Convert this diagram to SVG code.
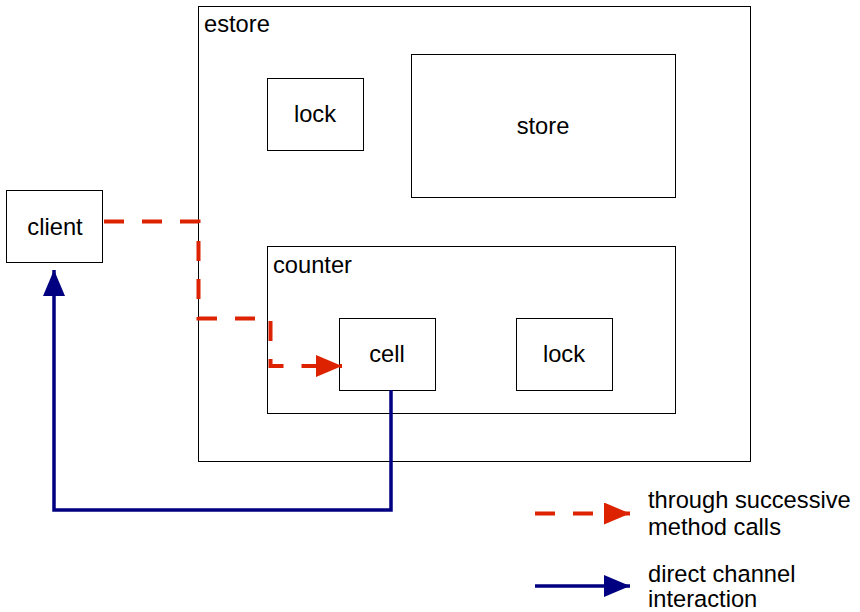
<svg xmlns="http://www.w3.org/2000/svg" width="860" height="612" viewBox="0 0 860 612">
<style>
rect{fill:#fff;stroke:#000;stroke-width:1}
text{font-family:"Liberation Sans",Arial,sans-serif;font-size:23.7px;fill:#000}
.c{text-anchor:middle}
.red{fill:none;stroke:#dd2200;stroke-width:4;stroke-dasharray:20 18}
.blue{fill:none;stroke:#000080;stroke-width:3.5}
</style>
<defs>
<marker id="ar" markerUnits="userSpaceOnUse" markerWidth="28" markerHeight="22" refX="26" refY="11" orient="auto"><path d="M0,0 L26,11 L0,22 Z" fill="#dd2200"/></marker>
<marker id="ab" markerUnits="userSpaceOnUse" markerWidth="28" markerHeight="22" refX="26" refY="11" orient="auto"><path d="M0,0 L26,11 L0,22 Z" fill="#000080"/></marker>
</defs>
<g id="estore"><rect x="198.5" y="6.5" width="552" height="455"/><text x="204" y="32">estore</text></g>
<g id="lock1"><rect x="267.5" y="78.5" width="96" height="72"/><text class="c" x="315" y="122">lock</text></g>
<g id="store"><rect x="411.5" y="54.5" width="264" height="143"/><text class="c" x="543" y="134">store</text></g>
<g id="client"><rect x="6.5" y="190.5" width="96" height="72"/><text class="c" x="55" y="235">client</text></g>
<g id="counter"><rect x="267.5" y="246.5" width="408" height="167"/><text x="273" y="273">counter</text></g>
<g id="cell"><rect x="339.5" y="318.5" width="96" height="72"/><text class="c" x="387" y="362">cell</text></g>
<g id="lock2"><rect x="516.5" y="318.5" width="96" height="72"/><text class="c" x="564" y="362">lock</text></g>
<g id="connectors">
<path class="red" d="M104,221.5 H198.5 V318.5 H270.5 V366 H342" marker-end="url(#ar)"/>
<path class="blue" d="M391,390 V510 H54 V270" marker-end="url(#ab)"/>
</g>
<g id="legend">
<path class="red" d="M535,513.5 H630" marker-end="url(#ar)"/>
<path class="blue" d="M535,586 H630" marker-end="url(#ab)"/>
<text x="648" y="508">through successive</text>
<text x="648" y="535">method calls</text>
<text x="648" y="582">direct channel</text>
<text x="648" y="607">interaction</text>
</g>
</svg>
